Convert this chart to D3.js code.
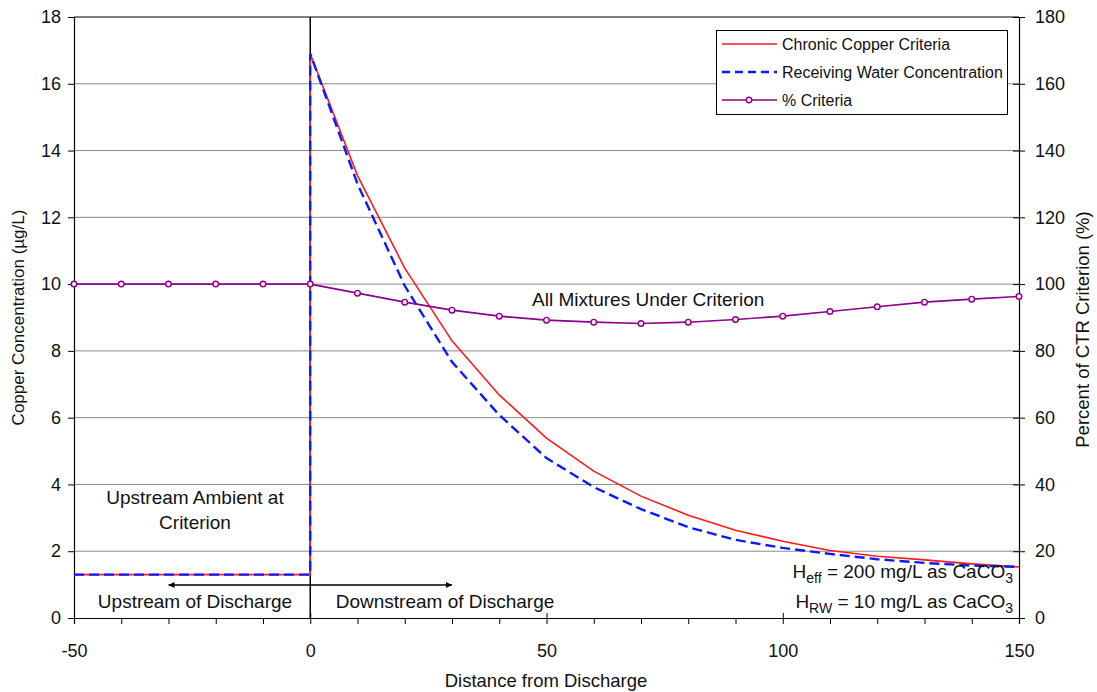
<!DOCTYPE html>
<html>
<head>
<meta charset="utf-8">
<script src="https://cdn.jsdelivr.net/npm/d3@7"></script>
<style>
  body { margin: 0; background: #fff; }
  text { font-family: "Liberation Sans", Arial, sans-serif; fill: #111; }
</style>
</head>
<body>
<div id="chart"></div>
<script>
// distances (upstream + downstream)
const upDist = [-50, 0];
const downDist = [0, 10, 20, 30, 40, 50, 60, 70, 80, 90, 100, 110, 120, 130, 140, 150];
const ambient = 1.3;
const criteria = [16.9, 13.25, 10.48, 8.3, 6.68, 5.39, 4.4, 3.65, 3.08, 2.63, 2.3, 2.02, 1.85, 1.74, 1.62, 1.53];
const receiving = [16.9, 13.0, 9.95, 7.67, 6.08, 4.79, 3.92, 3.26, 2.72, 2.34, 2.1, 1.92, 1.76, 1.65, 1.57, 1.53];
const pctDist = [-50, -40, -30, -20, -10, 0, 10, 20, 30, 40, 50, 60, 70, 80, 90, 100, 110, 120, 130, 140, 150];
const pctCriteria = [100, 100, 100, 100, 100, 100, 97.3, 94.6, 92.2, 90.4, 89.2, 88.6, 88.2, 88.6, 89.4, 90.4, 91.8, 93.2, 94.6, 95.5, 96.3];
const xTicks = [-50, 0, 50, 100, 150];
const yTicks = [0, 2, 4, 6, 8, 10, 12, 14, 16, 18];
const y2Ticks = [0, 20, 40, 60, 80, 100, 120, 140, 160, 180];

const W = 1097, H = 692;
const mLeft = 74, mRight = 1019, mTop = 17, mBottom = 618;

const svg = d3.select("#chart").append("svg")
  .attr("width", W).attr("height", H);

const x = d3.scaleLinear().domain([-50, 150]).range([mLeft, mRight]);
const y = d3.scaleLinear().domain([0, 18]).range([mBottom, mTop]);
const y2 = d3.scaleLinear().domain([0, 180]).range([mBottom, mTop]);

// gridlines
svg.append("g").selectAll("line")
  .data(yTicks.filter(d => d > 0))
  .enter().append("line")
  .attr("x1", mLeft).attr("x2", mRight)
  .attr("y1", d => y(d)).attr("y2", d => y(d))
  .attr("stroke", d => d === 18 ? "#000" : "#8a8a8a")
  .attr("stroke-width", 1);

// left axis
const yAxis = svg.append("g")
  .attr("transform", `translate(${mLeft},0)`)
  .call(d3.axisLeft(y).tickValues(yTicks).tickSize(6).tickPadding(7));
yAxis.select(".domain").attr("stroke", "#000").attr("stroke-width", 1.2);
yAxis.selectAll("text").style("font-size", "18px").attr("font-family", null);

// right axis
const y2Axis = svg.append("g")
  .attr("transform", `translate(${mRight},0)`)
  .call(d3.axisRight(y2).tickValues(y2Ticks).tickSize(6).tickPadding(10));
y2Axis.select(".domain").attr("stroke", "#000").attr("stroke-width", 1.2);
y2Axis.selectAll(".tick line").attr("x1", -6);
y2Axis.selectAll("text").style("font-size", "18px").attr("font-family", null);

// bottom axis: minor ticks every 10, labels every 50
const xAxis = svg.append("g")
  .attr("transform", `translate(0,${mBottom})`)
  .call(d3.axisBottom(x).tickValues(d3.range(-50, 151, 10)).tickSize(6).tickPadding(20)
    .tickFormat(d => xTicks.includes(d) ? d : ""));
xAxis.select(".domain").attr("stroke", "#000").attr("stroke-width", 1.2);
xAxis.selectAll(".tick line").attr("y1", d => xTicks.includes(d) ? -5 : 0);
xAxis.selectAll("text").style("font-size", "18px").attr("font-family", null);

// discharge point line
svg.append("line")
  .attr("x1", x(0)).attr("x2", x(0))
  .attr("y1", y(0)).attr("y2", y(18))
  .attr("stroke", "#000").attr("stroke-width", 1.5);

// series
const stepLine = d3.line().x(d => x(d[0])).y(d => y(d[1]));
const critPts = upDist.map(d => [d, ambient]).concat(downDist.map((d, i) => [d, criteria[i]]));
const recvPts = upDist.map(d => [d, ambient]).concat(downDist.map((d, i) => [d, receiving[i]]));

svg.append("path").datum(critPts)
  .attr("d", stepLine).attr("fill", "none")
  .attr("stroke", "#ff1a1a").attr("stroke-width", 1.6);

svg.append("path").datum(recvPts)
  .attr("d", stepLine).attr("fill", "none")
  .attr("stroke", "#0a1aff").attr("stroke-width", 2.4)
  .attr("stroke-dasharray", "10,5");

const pctPts = pctDist.map((d, i) => [d, pctCriteria[i]]);
svg.append("path").datum(pctPts)
  .attr("d", d3.line().x(d => x(d[0])).y(d => y2(d[1])))
  .attr("fill", "none").attr("stroke", "#8b008b").attr("stroke-width", 1.6);
svg.append("g").selectAll("circle")
  .data(pctPts).enter().append("circle")
  .attr("cx", d => x(d[0])).attr("cy", d => y2(d[1])).attr("r", 2.8)
  .attr("fill", "#f4e6f4").attr("stroke", "#8b008b").attr("stroke-width", 1.4);

// arrows
const defs = svg.append("defs");
defs.append("marker").attr("id", "arr")
  .attr("viewBox", "0 0 10 10").attr("refX", 10).attr("refY", 5)
  .attr("markerWidth", 10).attr("markerHeight", 6).attr("markerUnits", "userSpaceOnUse")
  .attr("orient", "auto")
  .append("path").attr("d", "M0,0 L10,5 L0,10 z").attr("fill", "#000");
[-30, 30].forEach(d => {
  svg.append("line")
    .attr("x1", x(0)).attr("x2", x(d))
    .attr("y1", 585).attr("y2", 585)
    .attr("stroke", "#000").attr("stroke-width", 1.3)
    .attr("marker-end", "url(#arr)");
});

// annotations
const note = (tx, ty, s, anchor) => svg.append("text")
  .attr("x", tx).attr("y", ty).attr("text-anchor", anchor || "middle")
  .style("font-size", "19px").text(s);
note(532, 306, "All Mixtures Under Criterion", "start");
note(195, 504, "Upstream Ambient at");
note(195, 529, "Criterion");
note(195, 608, "Upstream of Discharge");
note(445, 608, "Downstream of Discharge");

const hard = (ty, sub1, rest) => {
  const t = svg.append("text").attr("x", 1013).attr("y", ty)
    .attr("text-anchor", "end").style("font-size", "19px");
  t.append("tspan").text("H");
  t.append("tspan").attr("dy", 5).style("font-size", "14px").text(sub1);
  t.append("tspan").attr("dy", -5).text(rest);
  t.append("tspan").attr("dy", 5).style("font-size", "14px").text("3");
};
hard(578, "eff", " = 200 mg/L as CaCO");
hard(608, "RW", " = 10 mg/L as CaCO");

// axis titles
svg.append("text")
  .attr("transform", `translate(24,${(mTop + mBottom) / 2}) rotate(-90)`)
  .attr("text-anchor", "middle").style("font-size", "17px")
  .text("Copper Concentration (µg/L)");
svg.append("text")
  .attr("transform", `translate(1089,${(mTop + mBottom) / 2 + 12}) rotate(-90)`)
  .attr("text-anchor", "middle").style("font-size", "18.5px")
  .text("Percent of CTR Criterion (%)");
svg.append("text")
  .attr("x", 546).attr("y", 687).attr("text-anchor", "middle")
  .style("font-size", "18.5px").text("Distance from Discharge");

// legend
const lg = svg.append("g");
lg.append("rect").attr("x", 716.5).attr("y", 30.5).attr("width", 291).attr("height", 84)
  .attr("fill", "#fff").attr("stroke", "#000").attr("stroke-width", 1);
const legendItems = [
  { name: "Chronic Copper Criteria", color: "#ff1a1a", dash: null, w: 1.6 },
  { name: "Receiving Water Concentration", color: "#0a1aff", dash: "8,5", w: 2.4 },
  { name: "% Criteria", color: "#8b008b", dash: null, w: 1.6, marker: true }
];
legendItems.forEach((d, i) => {
  const ly = 44 + i * 28;
  lg.append("line").attr("x1", 722).attr("x2", 777).attr("y1", ly).attr("y2", ly)
    .attr("stroke", d.color).attr("stroke-width", d.w)
    .attr("stroke-dasharray", d.dash);
  if (d.marker) {
    lg.append("circle").attr("cx", 749).attr("cy", ly).attr("r", 2.8)
      .attr("fill", "#f4e6f4").attr("stroke", d.color).attr("stroke-width", 1.4);
  }
  lg.append("text").attr("x", 782).attr("y", ly + 5.5)
    .style("font-size", "16px").text(d.name);
});
</script>
</body>
</html>
